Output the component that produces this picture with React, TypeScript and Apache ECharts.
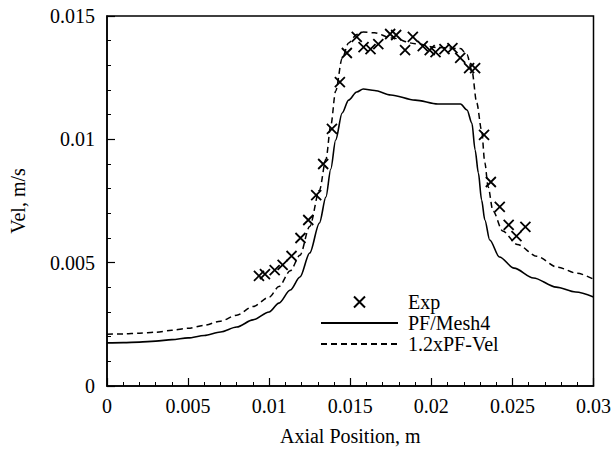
import React, { useEffect, useRef } from "react";
import * as echarts from "echarts";

// Experimental points (Exp)
const expX = [
  0.00937, 0.00974, 0.01034, 0.01083, 0.01138, 0.01193, 0.01241, 0.0129, 0.01333, 0.01387,
  0.01436, 0.01479, 0.0154, 0.01582, 0.01625, 0.01673, 0.01746, 0.01783, 0.01838, 0.01886,
  0.01947, 0.0199, 0.02026, 0.02081, 0.0213, 0.02178, 0.02233, 0.0227, 0.02325, 0.02367,
  0.02422, 0.02477, 0.02525, 0.0258,
];
const expY = [
  0.00446, 0.00454, 0.0047, 0.00491, 0.00527, 0.006, 0.00673, 0.00774, 0.009, 0.01042,
  0.01232, 0.0135, 0.01415, 0.01374, 0.01366, 0.01386, 0.01427, 0.01423, 0.01362, 0.01415,
  0.01378, 0.01362, 0.01354, 0.01366, 0.0137, 0.0133, 0.01289, 0.01289, 0.01018, 0.00827,
  0.00726, 0.00653, 0.00608, 0.00645,
];

// PF/Mesh4 (solid)
const meshX = [
  0, 0.001, 0.002, 0.003, 0.004, 0.005, 0.006, 0.007, 0.008, 0.009, 0.01, 0.0106, 0.0113,
  0.0119, 0.0125, 0.0131, 0.0135, 0.0138, 0.0141, 0.0145, 0.0149, 0.0154, 0.0158, 0.0165,
  0.0175, 0.019, 0.0204, 0.0218, 0.0222, 0.0225, 0.0227, 0.0229, 0.0231, 0.0233, 0.0236,
  0.0242, 0.0251, 0.0263, 0.0277, 0.0289, 0.03,
];
const meshY = [
  0.00175, 0.00176, 0.00178, 0.00182, 0.00188, 0.00195, 0.00205, 0.00219, 0.00239, 0.00268,
  0.003, 0.00336, 0.00389, 0.00442, 0.00539, 0.00661, 0.00766, 0.0088, 0.00997, 0.01107,
  0.01159, 0.01192, 0.01204, 0.01198, 0.0118, 0.01159, 0.01143, 0.01143, 0.01119, 0.01066,
  0.00957, 0.00864, 0.00754, 0.00673, 0.00592, 0.00523, 0.00478, 0.00438, 0.00401, 0.00381,
  0.00361,
];

// 1.2xPF-Vel (dashed)
const velX = [
  0, 0.001, 0.002, 0.003, 0.004, 0.005, 0.006, 0.007, 0.008, 0.009, 0.01, 0.0106, 0.0113,
  0.0119, 0.0125, 0.0131, 0.0135, 0.0138, 0.0141, 0.0145, 0.0149, 0.0154, 0.0158, 0.0165,
  0.0175, 0.019, 0.0204, 0.0218, 0.0222, 0.0225, 0.0228, 0.0231, 0.0233, 0.0235, 0.0238,
  0.0244, 0.0253, 0.0265, 0.0278, 0.029, 0.03,
];
const velY = [
  0.0021, 0.00211, 0.00214, 0.00218, 0.00226, 0.00234, 0.00246, 0.00263, 0.00287, 0.00322,
  0.0036, 0.00403, 0.00467, 0.0053, 0.00647, 0.00793, 0.00919, 0.01056, 0.01196, 0.01328,
  0.01391, 0.01425, 0.01435, 0.01432, 0.01412, 0.01388, 0.01372, 0.01368, 0.01343, 0.01279,
  0.01148, 0.01037, 0.00905, 0.00808, 0.0071, 0.00628, 0.00574, 0.00526, 0.00481, 0.00457,
  0.00433,
];

const xTickValues = [0, 0.005, 0.01, 0.015, 0.02, 0.025, 0.03];
const xTickLabels = ["0", "0.005", "0.01", "0.015", "0.02", "0.025", "0.03"];
const yTickValues = [0, 0.005, 0.01, 0.015];
const yTickLabels = ["0", "0.005", "0.01", "0.015"];

const seriesNames = ["Exp", "PF/Mesh4", "1.2xPF-Vel"];

function labelFor(values: number[], labels: string[]) {
  return (v: number) => {
    let best = 0;
    for (let i = 1; i < values.length; i++) {
      if (Math.abs(values[i] - v) < Math.abs(values[best] - v)) best = i;
    }
    return labels[best];
  };
}

export default function App() {
  const ref = useRef<HTMLDivElement>(null);
  useEffect(() => {
    document.body.style.margin = "0";
    const chart = echarts.init(ref.current!, null, { renderer: "svg" });
    const font = "'Liberation Serif', 'Times New Roman', serif";
    const axisCommon = {
      type: "value",
      axisLine: { show: true, lineStyle: { color: "#000", width: 1.5 } },
      axisTick: { show: true, inside: true, length: 8, lineStyle: { color: "#000", width: 1.2 } },
      minorTick: { show: true, splitNumber: 5, length: 4, lineStyle: { color: "#000", width: 1 } },
      splitLine: { show: false },
      minorSplitLine: { show: false },
      nameLocation: "middle",
      nameTextStyle: { fontFamily: font, fontSize: 20, color: "#000" },
    };
    chart.setOption({
      animation: false,
      backgroundColor: "#fff",
      grid: {
        left: 105,
        right: 16,
        top: 16,
        bottom: 73,
        show: true,
        borderColor: "#000",
        borderWidth: 1.5,
        backgroundColor: "transparent",
      },
      legend: {
        data: [
          { name: seriesNames[0] },
          { name: seriesNames[1], itemStyle: { opacity: 0 } },
          { name: seriesNames[2], itemStyle: { opacity: 0 } },
        ],
        orient: "vertical",
        left: 315,
        top: 287,
        itemWidth: 77,
        itemHeight: 11,
        itemGap: 1,
        selectedMode: false,
        textStyle: { fontFamily: font, fontSize: 20, color: "#000", padding: [0, 0, 0, 5] },
      },
      xAxis: {
        ...axisCommon,
        min: 0,
        max: 0.03,
        interval: 0.005,
        name: "Axial Position, m",
        nameGap: 40,
        axisLabel: {
          color: "#000",
          fontFamily: font,
          fontSize: 20,
          margin: 10,
          formatter: labelFor(xTickValues, xTickLabels),
        },
      },
      yAxis: {
        ...axisCommon,
        min: 0,
        max: 0.015,
        interval: 0.005,
        name: "Vel, m/s",
        nameGap: 79,
        axisLabel: {
          color: "#000",
          fontFamily: font,
          fontSize: 20,
          margin: 12,
          formatter: labelFor(yTickValues, yTickLabels),
        },
      },
      series: [
        {
          name: seriesNames[0],
          type: "scatter",
          data: expX.map((x, i) => [x, expY[i]]),
          symbol: "path://M0,0L10,10M10,0L0,10",
          symbolSize: 10,
          itemStyle: { color: "#000", borderColor: "#000", borderWidth: 1.8, opacity: 1 },
          z: 3,
        },
        {
          name: seriesNames[1],
          type: "line",
          data: meshX.map((x, i) => [x, meshY[i]]),
          symbol: "none",
          smooth: 0.3,
          smoothMonotone: "x",
          lineStyle: { color: "#000", width: 1.6 },
          itemStyle: { color: "#000" },
        },
        {
          name: seriesNames[2],
          type: "line",
          data: velX.map((x, i) => [x, velY[i]]),
          symbol: "none",
          smooth: 0.3,
          smoothMonotone: "x",
          lineStyle: { color: "#000", width: 1.5, type: [6, 4] },
          itemStyle: { color: "#000" },
        },
      ],
    });
    return () => chart.dispose();
  }, []);
  return <div ref={ref} style={{ width: 614, height: 459 }} />;
}
